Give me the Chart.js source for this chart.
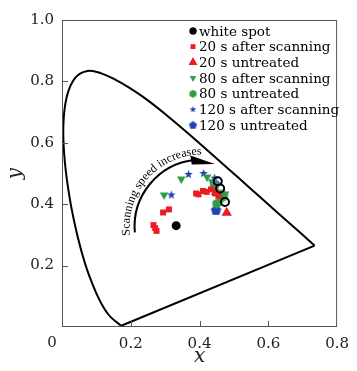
<!DOCTYPE html>
<html>
<head>
<meta charset="utf-8">
<script src="https://cdn.jsdelivr.net/npm/chart.js@4.4.0/dist/chart.umd.min.js"></script>
<style>
  html, body { margin: 0; padding: 0; background: #fff; }
  #wrap { width: 357px; height: 371px; }
</style>
</head>
<body>
<div id="wrap"><canvas id="cie"></canvas></div>
<script>
// spectral locus (CIE 1931), 380 nm -> 700 nm
const locusX = [0.1741, 0.1733, 0.1714, 0.1689, 0.1644, 0.1566, 0.1440, 0.1355, 0.1241, 0.1096, 0.0913, 0.0687, 0.0454, 0.0235, 0.0082, 0.0039, 0.0139, 0.0389, 0.0743, 0.1142, 0.1547, 0.1929, 0.2296, 0.2658, 0.3016, 0.3373, 0.3731, 0.4441, 0.5125, 0.5752, 0.6270, 0.6915, 0.7190, 0.7347];
const locusY = [0.0050, 0.0048, 0.0051, 0.0069, 0.0109, 0.0177, 0.0297, 0.0399, 0.0578, 0.0868, 0.1327, 0.2007, 0.2950, 0.4127, 0.5384, 0.6548, 0.7502, 0.8120, 0.8338, 0.8262, 0.8059, 0.7816, 0.7543, 0.7243, 0.6923, 0.6589, 0.6245, 0.5547, 0.4866, 0.4242, 0.3725, 0.3083, 0.2809, 0.2653];
// line of purples
const purpleX = [0.7347, 0.1741];
const purpleY = [0.2653, 0.0050];

const whiteX = [0.332, 0.453, 0.460, 0.474];
const whiteY = [0.330, 0.475, 0.451, 0.407];
const after20X = [0.266, 0.271, 0.275, 0.294, 0.311, 0.390, 0.397, 0.410, 0.421, 0.433, 0.445, 0.455];
const after20Y = [0.332, 0.322, 0.313, 0.373, 0.383, 0.435, 0.432, 0.443, 0.440, 0.448, 0.435, 0.427];
const untr20X = [0.479, 0.448];
const untr20Y = [0.372, 0.440];
const after80X = [0.297, 0.347, 0.422, 0.437, 0.462, 0.474];
const after80Y = [0.430, 0.482, 0.489, 0.473, 0.440, 0.433];
const untr80X = [0.450, 0.465, 0.443, 0.470];
const untr80Y = [0.402, 0.420, 0.455, 0.428];
const after120X = [0.318, 0.368, 0.412, 0.444];
const after120Y = [0.430, 0.497, 0.500, 0.485];
const untr120X = [0.448, 0.445];
const untr120Y = [0.380, 0.465];

const RED = '#ec1c24', GREEN = '#2f9e44', BLUE = '#2242b4';
const SERIF = '"DejaVu Serif", serif';

const pts = (xs, ys) => xs.map((x, i) => ({ x: x, y: ys[i] }));

// polygon / star marker drawn on a small canvas
function shape(sides, r, color, star) {
    const c = document.createElement('canvas');
    const s = Math.ceil(r * 2 + 2);
    c.width = s; c.height = s;
    const g = c.getContext('2d');
    g.fillStyle = color;
    g.beginPath();
    const n = star ? sides * 2 : sides;
    for (let i = 0; i < n; i++) {
        const a = -Math.PI / 2 + i * Math.PI * 2 / n;
        const rr = star && i % 2 ? r * 0.42 : r;
        const px = s / 2 + rr * Math.cos(a), py = s / 2 + rr * Math.sin(a);
        i ? g.lineTo(px, py) : g.moveTo(px, py);
    }
    g.closePath();
    g.fill();
    return c;
}

const hexBig = shape(6, 5, GREEN), hexSmall = shape(6, 4, GREEN);
const pentBig = shape(5, 5.5, BLUE), pentSmall = shape(5, 4.2, BLUE);
const starBig = shape(5, 4.5, BLUE, true), starSmall = shape(5, 3.5, BLUE, true);

const legendIcons = [
    { style: 'circle', r: 3.5, color: '#000' },
    { style: 'rect', r: 3.2, color: RED },
    { style: 'triangle', r: 5, color: RED },
    { style: 'triangle', r: 3.5, color: GREEN, rot: 180 },
    { img: hexSmall },
    { img: starSmall },
    { img: pentSmall }
];

const deg = d => d * Math.PI / 180;

const frameAndExtras = {
    id: 'frameAndExtras',
    beforeDatasetsDraw(chart) {
        const { ctx, scales: { x, y } } = chart;
        // curved arrow + text
        const cx = x.getPixelForValue(0.406), cy = y.getPixelForValue(0.327);
        const r = 67;
        ctx.save();
        ctx.strokeStyle = '#000';
        ctx.lineWidth = 2;
        ctx.beginPath();
        ctx.arc(cx, cy, r, deg(175), deg(264));
        ctx.stroke();
        ctx.fillStyle = '#000';
        ctx.beginPath();
        ctx.moveTo(cx + 64 * Math.cos(deg(282)), cy + 64 * Math.sin(deg(282)));
        ctx.lineTo(cx + (r + 5) * Math.cos(deg(261)), cy + (r + 5) * Math.sin(deg(261)));
        ctx.lineTo(cx + (r - 4) * Math.cos(deg(261)), cy + (r - 4) * Math.sin(deg(261)));
        ctx.closePath();
        ctx.fill();

        const text = 'Scanning speed increases';
        ctx.font = '12px "Liberation Serif", serif';
        ctx.textAlign = 'center';
        ctx.textBaseline = 'alphabetic';
        const tr = 72;
        const a0 = deg(173), a1 = deg(268);
        const chars = [...text];
        const widths = chars.map(ch => ctx.measureText(ch).width);
        const natural = widths.reduce((s, w) => s + w, 0);
        const spaces = chars.filter(ch => ch === ' ').length;
        const extra = Math.max(0, ((a1 - a0) * tr - natural) / spaces);
        let ang = a0;
        chars.forEach((ch, i) => {
            const w = widths[i] + (ch === ' ' ? extra : 0);
            const m = ang + (w / 2) / tr;
            ctx.save();
            ctx.translate(cx + tr * Math.cos(m), cy + tr * Math.sin(m));
            ctx.rotate(m + Math.PI / 2);
            ctx.fillText(ch, 0, 0);
            ctx.restore();
            ang += w / tr;
        });
        ctx.restore();
    },
    afterDraw(chart) {
        const { ctx, chartArea: a, scales: { x, y } } = chart;
        ctx.save();
        ctx.strokeStyle = '#555';
        ctx.lineWidth = 1;
        ctx.strokeRect(a.left + 0.5, a.top + 0.5, a.right - a.left - 1, a.bottom - a.top - 1);
        ctx.beginPath();
        [0.2, 0.4, 0.6].forEach(v => {
            const px = Math.round(x.getPixelForValue(v)) + 0.5;
            ctx.moveTo(px, a.bottom);
            ctx.lineTo(px, a.bottom - 6);
        });
        [0.2, 0.4, 0.6, 0.8].forEach(v => {
            const py = Math.round(y.getPixelForValue(v)) + 0.5;
            ctx.moveTo(a.left, py);
            ctx.lineTo(a.left + 6, py);
        });
        ctx.stroke();

        // shared origin label
        ctx.fillStyle = '#222';
        ctx.font = '15px ' + SERIF;
        ctx.textAlign = 'center';
        ctx.textBaseline = 'middle';
        ctx.fillText('0', a.left - 10, a.bottom + 16);

        // legend inside the plot
        ctx.font = '13.5px ' + SERIF;
        ctx.textAlign = 'left';
        const sets = chart.data.datasets.filter(d => d.label);
        sets.forEach((d, i) => {
            const ly = a.top + 11 + i * 15.7;
            const lx = a.left + 131;
            const ic = legendIcons[i];
            if (ic.img) {
                ctx.drawImage(ic.img, lx - ic.img.width / 2, ly - ic.img.height / 2);
            } else {
                ctx.fillStyle = ic.color;
                Chart.helpers.drawPoint(ctx, { pointStyle: ic.style, radius: ic.r, rotation: ic.rot || 0, borderWidth: 0 }, lx, ly);
                ctx.fill();
            }
            ctx.fillStyle = '#000';
            ctx.fillText(d.label, lx + 6, ly + 1);
        });
        ctx.restore();
    }
};

new Chart(document.getElementById('cie'), {
    type: 'scatter',
    data: {
        datasets: [
            {
                label: 'white spot',
                data: pts(whiteX, whiteY),
                pointStyle: 'circle',
                pointRadius: [4.5, 4, 4, 4],
                backgroundColor: ['#000', 'rgba(255,255,255,0.2)', 'rgba(255,255,255,0.2)', 'rgba(255,255,255,0.2)'],
                borderColor: '#000',
                borderWidth: [0, 2, 2, 2]
            },
            {
                label: '20 s after scanning',
                data: pts(after20X, after20Y),
                pointStyle: 'rect',
                pointRadius: 4.2,
                backgroundColor: RED,
                borderWidth: 0
            },
            {
                label: '20 s untreated',
                data: pts(untr20X, untr20Y),
                pointStyle: 'triangle',
                pointRadius: 6,
                backgroundColor: RED,
                borderWidth: 0
            },
            {
                label: '80 s after scanning',
                data: pts(after80X, after80Y),
                pointStyle: 'triangle',
                rotation: 180,
                pointRadius: 5,
                backgroundColor: GREEN,
                borderWidth: 0
            },
            {
                label: '80 s untreated',
                data: pts(untr80X, untr80Y),
                pointStyle: hexBig,
                backgroundColor: GREEN,
                borderWidth: 0
            },
            {
                label: '120 s after scanning',
                data: pts(after120X, after120Y),
                pointStyle: starBig,
                backgroundColor: BLUE,
                borderWidth: 0
            },
            {
                label: '120 s untreated',
                data: pts(untr120X, untr120Y),
                pointStyle: pentBig,
                backgroundColor: BLUE,
                borderWidth: 0
            },
            {
                data: pts(locusX, locusY),
                showLine: true,
                pointRadius: 0,
                borderColor: '#000',
                borderWidth: 2,
                tension: 0.4,
                order: 10
            },
            {
                data: pts(purpleX, purpleY),
                showLine: true,
                pointRadius: 0,
                borderColor: '#000',
                borderWidth: 2,
                tension: 0,
                order: 10
            }
        ]
    },
    options: {
        responsive: true,
        maintainAspectRatio: false,
        animation: false,
        layout: { padding: { top: 20, right: 15, left: 0, bottom: 0 } },
        plugins: {
            legend: { display: false },
            tooltip: { enabled: false }
        },
        scales: {
            x: {
                min: 0, max: 0.8,
                grid: { display: false, drawTicks: false },
                border: { display: false },
                ticks: {
                    stepSize: 0.2,
                    padding: 8,
                    color: '#222',
                    font: { family: SERIF, size: 15 },
                    maxRotation: 0,
                    callback: v => Math.abs(v) < 1e-9 ? '' : v.toFixed(1)
                },
                title: {
                    display: true,
                    text: 'x',
                    color: '#222',
                    padding: { top: 0, bottom: 2 },
                    font: { family: SERIF, size: 20, style: 'italic' }
                },
                afterFit: s => { s.height = 44; }
            },
            y: {
                min: 0, max: 1.0,
                grid: { display: false, drawTicks: false },
                border: { display: false },
                ticks: {
                    stepSize: 0.2,
                    padding: 8,
                    color: '#222',
                    font: { family: SERIF, size: 15 },
                    callback: v => Math.abs(v) < 1e-9 ? '' : v.toFixed(1)
                },
                title: {
                    display: true,
                    text: 'y',
                    color: '#222',
                    padding: { top: 4, bottom: 0 },
                    font: { family: SERIF, size: 20, style: 'italic' }
                },
                afterFit: s => { s.width = 62; }
            }
        }
    },
    plugins: [frameAndExtras]
});
</script>
</body>
</html>
